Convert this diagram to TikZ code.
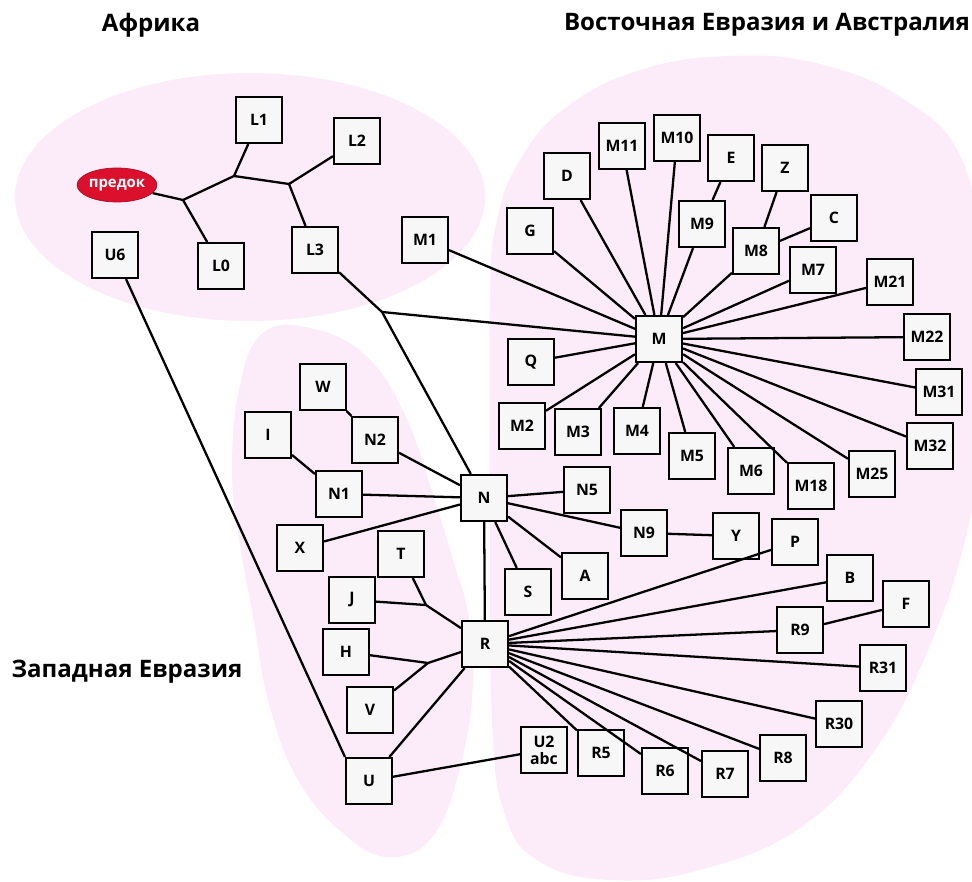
\documentclass[tikz,border=0pt]{standalone}
\usepackage{fontspec}
\setmainfont{Open Sans}
\usepackage{tikz}
\usetikzlibrary{shapes.geometric}
\definecolor{blob}{RGB}{252,235,248}
\definecolor{rootred}{RGB}{218,16,45}
\tikzstyle{hap}=[rectangle, draw=black, line width=1.2pt, fill=black!3, minimum size=0.92cm,
        inner sep=0pt, align=center, font=\fontsize{9}{9.5}\selectfont\bfseries]
\tikzstyle{root}=[ellipse, fill=rootred, draw=rootred!80!black, minimum width=1.56cm,
        minimum height=0.68cm, inner sep=0pt, text=white, font=\fontsize{8.5}{10}\selectfont\bfseries]
\tikzstyle{region}=[font=\fontsize{13.7}{15}\selectfont\bfseries]
\tikzstyle{link}=[line width=1.3pt]
\tikzstyle{zone}=[fill=blob]

\begin{document}
\begin{tikzpicture}[x=0.02cm, y=-0.02cm]
\useasboundingbox (0,0) rectangle (972,881);

\fill[zone] (250,197) ellipse [x radius=4.7cm, y radius=2.48cm];
\fill[zone] plot[smooth cycle, tension=0.7] coordinates {(490,300) (497,220) (520,160) (565,108)
  (640,70) (730,56) (820,64) (905,100) (962,160) (985,280) (985,420) (965,540) (928,650)
  (875,750) (800,828) (700,870) (610,880) (540,862) (505,815) (492,720) (490,520)};
\fill[zone] plot[smooth cycle, tension=0.7] coordinates {(263,333) (240,385) (232,470) (240,545)
  (253,615) (268,700) (298,780) (345,835) (390,857) (433,836) (460,768) (473,683) (468,613)
  (453,560) (433,495) (405,415) (365,355) (310,328)};

\node[region] (africa) at (151,25) {Африка};
\node[region] (east) at (767,25) {Восточная Евразия и Австралия};
\node[region] (west) at (127,672) {Западная Евразия};

\node[root] (root) at (117,185) {предок};
\coordinate (j1) at (183,200);
\coordinate (j2) at (234,176);
\coordinate (j3) at (289,184);
\coordinate (j4) at (382,312);
\coordinate (jTJ) at (426,605);
\coordinate (jHV) at (428,663);

\node[hap] (L0) at (221,266) {L0};
\node[hap] (L1) at (259,120) {L1};
\node[hap] (L2) at (357,141) {L2};
\node[hap] (L3) at (315,250) {L3};
\node[hap] (U6) at (115,255) {U6};
\node[hap] (M1) at (425,240) {M1};

\node[hap] (M) at (659,339) {M};
\node[hap] (G) at (530,231) {G};
\node[hap] (D) at (567,176) {D};
\node[hap] (M11) at (622,146) {M11};
\node[hap] (M10) at (677,138) {M10};
\node[hap] (E) at (731,158) {E};
\node[hap] (Z) at (785,168) {Z};
\node[hap] (M9) at (702,224) {M9};
\node[hap] (M8) at (756,251) {M8};
\node[hap] (C) at (834,218) {C};
\node[hap] (M7) at (813,270) {M7};
\node[hap] (M21) at (890,282) {M21};
\node[hap] (M22) at (927,337) {M22};
\node[hap] (Q) at (531,362) {Q};
\node[hap] (M31) at (939,392) {M31};
\node[hap] (M32) at (930,446) {M32};
\node[hap] (M2) at (522,426) {M2};
\node[hap] (M3) at (578,432) {M3};
\node[hap] (M4) at (637,431) {M4};
\node[hap] (M5) at (692,456) {M5};
\node[hap] (M6) at (751,471) {M6};
\node[hap] (M18) at (811,486) {M18};
\node[hap] (M25) at (872,474) {M25};

\node[hap] (N) at (484,498) {N};
\node[hap] (W) at (323,387) {W};
\node[hap] (I) at (268,435) {I};
\node[hap] (N2) at (375,440) {N2};
\node[hap] (N1) at (339,494) {N1};
\node[hap] (N5) at (587,490) {N5};
\node[hap] (X) at (300,548) {X};
\node[hap] (T) at (401,554) {T};
\node[hap] (S) at (528,592) {S};
\node[hap] (A) at (585,576) {A};
\node[hap] (J) at (352,600) {J};
\node[hap] (N9) at (644,533) {N9};
\node[hap] (Y) at (736,536) {Y};

\node[hap] (R) at (485,644) {R};
\node[hap] (H) at (346,652) {H};
\node[hap] (V) at (370,710) {V};
\node[hap] (U) at (369,781) {U};
\node[hap] (U2) at (544,750) {U2\\abc};
\node[hap] (P) at (795,542) {P};
\node[hap] (B) at (850,578) {B};
\node[hap] (F) at (906,604) {F};
\node[hap] (R9) at (800,630) {R9};
\node[hap] (R31) at (883,668) {R31};
\node[hap] (R30) at (839,724) {R30};
\node[hap] (R8) at (783,758) {R8};
\node[hap] (R7) at (725,774) {R7};
\node[hap] (R6) at (665,771) {R6};
\node[hap] (R5) at (601,753) {R5};

\draw[link] (root) -- (j1) -- (L0);
\draw[link] (j1) -- (j2) -- (L1);
\draw[link] (j2) -- (j3) -- (L2);
\draw[link] (j3) -- (L3) -- (j4) -- (N);
\draw[link] (j4) -- (M);
\draw[link] (M1) -- (M);
\draw[link] (U6) -- (U.north west);

\foreach \m in {G,D,M11,M10,M9,M8,M7,M21,M22,M31,M32,M25,M18,M6,M5,M4,M3,M2,Q}
  \draw[link] (M) -- (\m);
\draw[link] (M9) -- (E);
\draw[link] (M8) -- (Z);
\draw[link] (M8) -- (C);

\foreach \n in {N1,N2,X,N5,N9,A,S,R}
  \draw[link] (N) -- (\n);
\draw[link] (N1) -- (I);
\draw[link] (N2) -- (W);
\draw[link] (N9) -- (Y);

\foreach \r in {P,B,R9,R31,R30,R8,R7,R6,R5,U}
  \draw[link] (R) -- (\r);
\draw[link] (R9) -- (F);
\draw[link] (R) -- (jTJ) -- (J);
\draw[link] (jTJ) -- (T);
\draw[link] (R) -- (jHV) -- (H);
\draw[link] (jHV) -- (V);
\draw[link] (U) -- (U2);
\end{tikzpicture}
\end{document}
